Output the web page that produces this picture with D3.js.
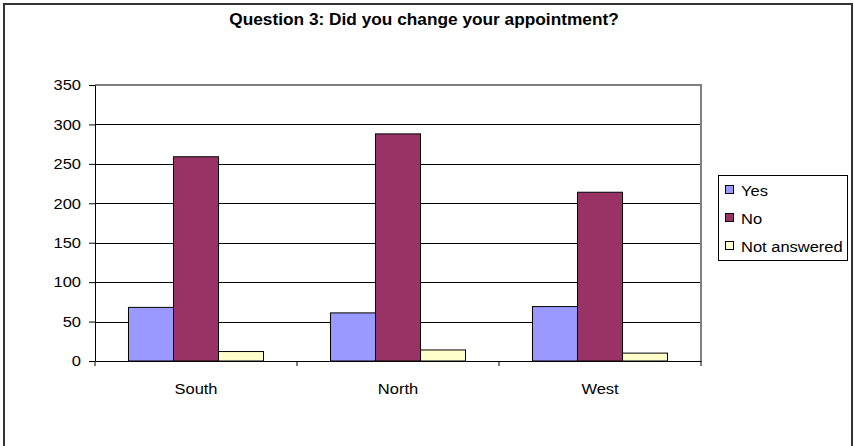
<!DOCTYPE html>
<html><head><meta charset="utf-8">
<script src="https://cdn.jsdelivr.net/npm/d3@7"></script>
<style>body{margin:0;background:#fff}svg{display:block}text{font-family:"Liberation Sans",Arial,sans-serif;fill:#000}</style>
</head><body><svg id="c" width="854" height="446"></svg>
<script>
const title = "Question 3: Did you change your appointment?";
const categories = ["South", "North", "West"];
const seriesNames = ["Yes", "No", "Not answered"];
const yesValues = [68, 61, 69];
const noValues = [259, 288, 214];
const notAnsweredValues = [12, 14, 10];
const yTicks = [0, 50, 100, 150, 200, 250, 300, 350];
const colors = ["#9999FF", "#993366", "#FFFFCC"];

const seriesValues = [yesValues, noValues, notAnsweredValues];
const svg = d3.select("#c");
const X0 = 95, X1 = 701, Y0 = 85, Y1 = 361;
const sx = 1.1;

svg.append("rect").attr("x", 4).attr("y", 4).attr("width", 848).attr("height", 460)
  .attr("fill", "#fff").attr("stroke", "#333").attr("stroke-width", 2);

svg.append("text").attr("transform", `translate(424,25) scale(1.08,1)`)
  .attr("text-anchor", "middle").attr("font-weight", "bold").attr("font-size", 16).text(title);

const y = d3.scaleLinear().domain([0, 350]).range([Y1, Y0]);
const x = d3.scaleBand().domain(categories).range([X0, X1]).padding(0);
const xs = d3.scaleBand().domain(seriesNames).range([0, x.bandwidth()]).paddingInner(0).paddingOuter(0.744);

// gridlines
svg.append("g").selectAll("line").data(yTicks.filter(t => t > 0 && t < 350)).join("line")
  .attr("x1", X0).attr("x2", X1).attr("y1", d => Math.round(y(d)) + 0.5).attr("y2", d => Math.round(y(d)) + 0.5)
  .attr("stroke", "#000").attr("stroke-width", 1);
// plot border (top & right grey)
svg.append("path").attr("d", `M${X0},${Y0} H${X1} V${Y1}`).attr("fill", "none")
  .attr("stroke", "#808080").attr("stroke-width", 2);

// bars
const g = svg.append("g");
seriesNames.forEach((s, i) => {
  g.append("g").selectAll("rect").data(categories).join("rect")
    .attr("x", c => x(c) + xs(s)).attr("width", xs.bandwidth())
    .attr("y", (c, j) => y(seriesValues[i][j])).attr("height", (c, j) => Y1 - y(seriesValues[i][j]))
    .attr("fill", colors[i]).attr("stroke", "#000").attr("stroke-width", 1);
});

// y axis
const ya = svg.append("g").attr("transform", `translate(${X0},0)`)
  .call(d3.axisLeft(y).tickValues(yTicks).tickSize(6).tickPadding(8).tickSizeOuter(0));
ya.select(".domain").attr("stroke", "#000");
ya.selectAll(".tick line").attr("stroke", "#000");
ya.selectAll("text").attr("font-size", 15).attr("font-family", '"Liberation Sans",Arial,sans-serif')
  .each(function () {
    const t = d3.select(this); const xx = +t.attr("x");
    t.attr("x", null).attr("transform", `translate(${xx},0) scale(${sx},1)`);
  });

// x axis
const xa = svg.append("g").attr("transform", `translate(0,${Y1})`)
  .call(d3.axisBottom(x).tickSize(0).tickPadding(22));
xa.select(".domain").attr("stroke", "#000");
xa.selectAll("text").attr("font-size", 15).attr("font-family", '"Liberation Sans",Arial,sans-serif')
  .attr("transform", `scale(${sx},1)`);
// category boundary ticks
const bounds = categories.map(c => x(c)).concat([X1]);
xa.append("g").selectAll("line").data(bounds).join("line")
  .attr("x1", d => d).attr("x2", d => d).attr("y1", 0).attr("y2", 5).attr("stroke", "#000");

// legend
const L = svg.append("g");
L.append("rect").attr("x", 718.5).attr("y", 175.5).attr("width", 129).attr("height", 85)
  .attr("fill", "#fff").attr("stroke", "#000");
seriesNames.forEach((s, i) => {
  const cy = 190 + i * 28;
  L.append("rect").attr("x", 725.5).attr("y", cy - 4.5).attr("width", 8).attr("height", 8)
    .attr("fill", colors[i]).attr("stroke", "#000");
  L.append("text").attr("transform", `translate(741,${cy + 5.5}) scale(${sx},1)`)
    .attr("font-size", 15).text(s);
});
</script></body></html>
